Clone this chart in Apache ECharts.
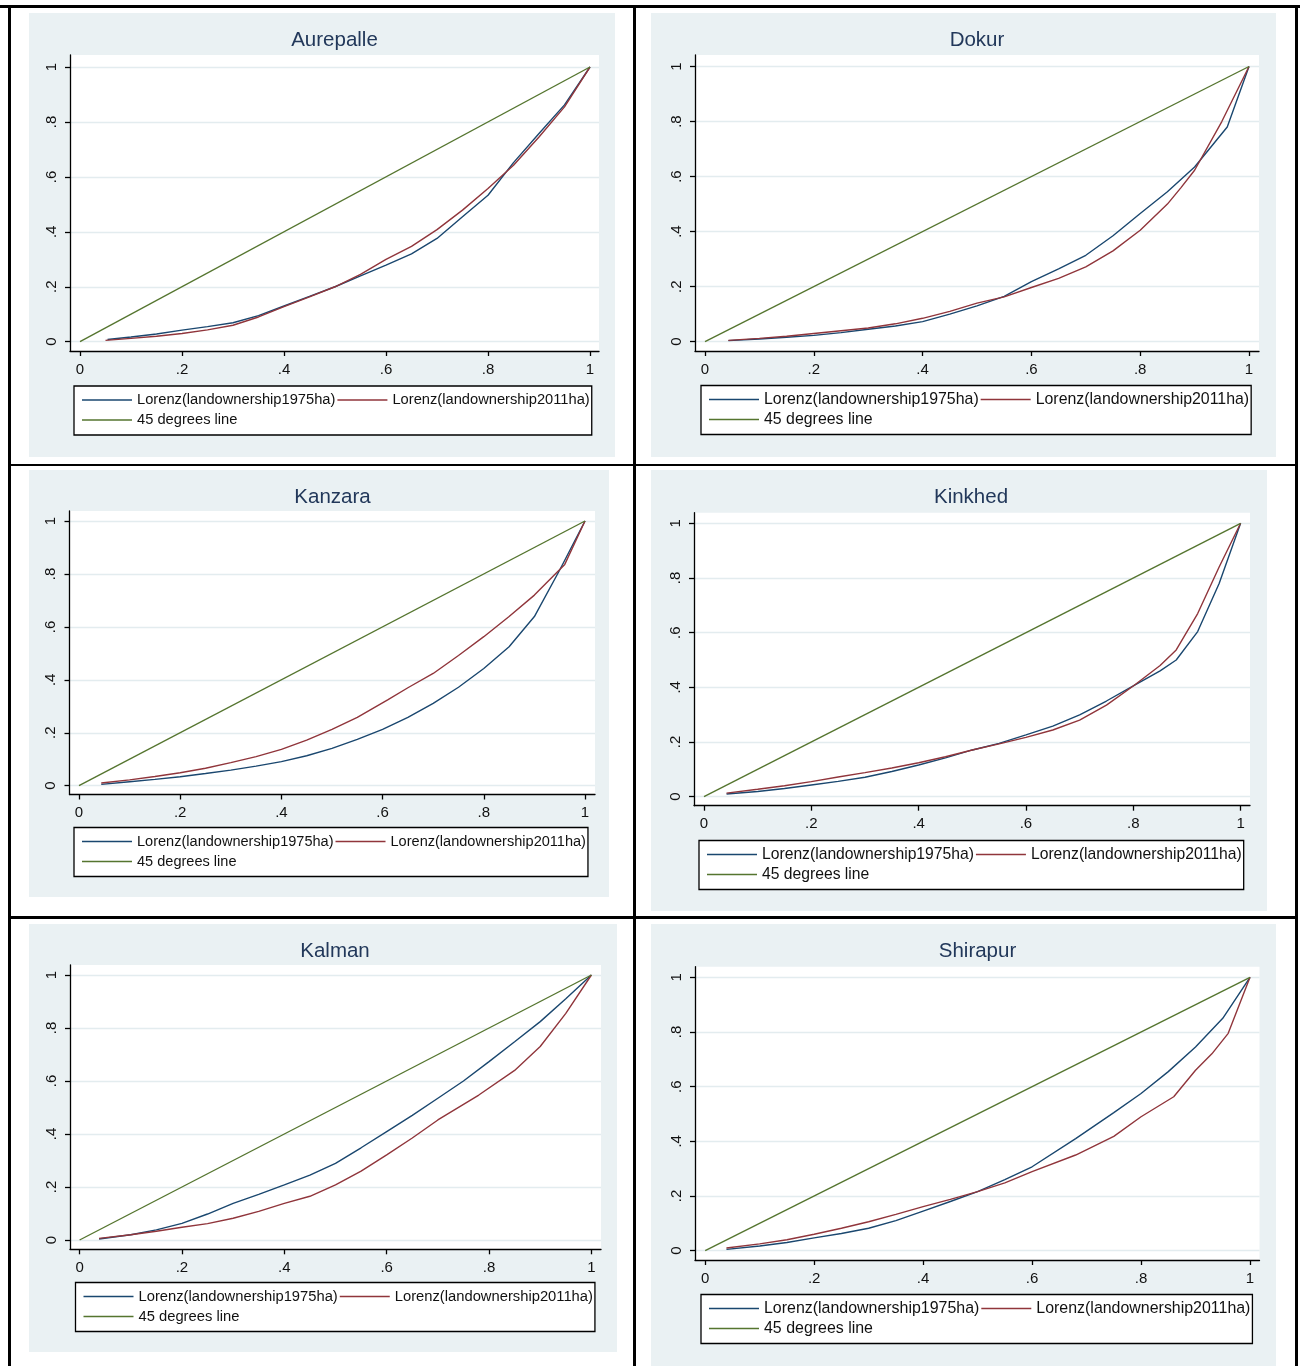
<!DOCTYPE html>
<html><head><meta charset="utf-8">
<script src="https://cdn.jsdelivr.net/npm/echarts@6/dist/echarts.min.js"></script>
<style>
html,body{margin:0;padding:0;background:#fff;}
#page{position:relative;width:1300px;height:1366px;overflow:hidden;}
.ln{position:absolute;background:#000;}
.cell{position:absolute;background:#eaf1f3;}
</style></head><body><div id="page"></div>
<script>
// ---------- data ----------
const villages = ['Aurepalle','Dokur','Kanzara','Kinkhed','Kalman','Shirapur'];
const seriesNames = ['Lorenz(landownership1975ha)','Lorenz(landownership2011ha)','45 degrees line'];
const tickValues = [0,0.2,0.4,0.6,0.8,1];
const tickLabels = ['0','.2','.4','.6','.8','1'];
const equalityLine = [[0,0],[1,1]];

const aurepalle1975 = [[0.054,0.008],[0.1,0.017],[0.15,0.028],[0.2,0.042],[0.25,0.055],[0.3,0.069],[0.35,0.095],[0.4,0.13],[0.45,0.165],[0.5,0.2],[0.55,0.24],[0.6,0.279],[0.65,0.32],[0.7,0.376],[0.75,0.455],[0.8,0.533],[0.85,0.652],[0.9,0.758],[0.95,0.862],[1,1]];
const aurepalle2011 = [[0.05,0.005],[0.1,0.012],[0.15,0.02],[0.2,0.03],[0.25,0.043],[0.3,0.06],[0.35,0.09],[0.4,0.128],[0.45,0.163],[0.5,0.2],[0.55,0.245],[0.6,0.3],[0.65,0.347],[0.7,0.408],[0.75,0.479],[0.8,0.558],[0.85,0.642],[0.9,0.745],[0.95,0.855],[1,1]];

const dokur1975 = [[0.043,0.004],[0.1,0.01],[0.15,0.016],[0.2,0.023],[0.25,0.033],[0.3,0.045],[0.35,0.057],[0.4,0.073],[0.45,0.1],[0.5,0.13],[0.55,0.165],[0.6,0.218],[0.65,0.265],[0.7,0.314],[0.75,0.385],[0.8,0.466],[0.85,0.545],[0.9,0.635],[0.96,0.78],[1,1]];
const dokur2011 = [[0.043,0.005],[0.1,0.012],[0.15,0.02],[0.2,0.03],[0.25,0.04],[0.3,0.05],[0.35,0.065],[0.4,0.085],[0.45,0.11],[0.5,0.14],[0.55,0.163],[0.6,0.197],[0.65,0.23],[0.7,0.272],[0.75,0.33],[0.8,0.405],[0.85,0.5],[0.875,0.56],[0.9,0.623],[0.95,0.8],[1,1]];

const kanzara1975 = [[0.044,0.005],[0.1,0.015],[0.15,0.024],[0.2,0.034],[0.25,0.046],[0.3,0.059],[0.35,0.074],[0.4,0.091],[0.45,0.113],[0.5,0.141],[0.55,0.175],[0.6,0.213],[0.65,0.258],[0.7,0.311],[0.75,0.372],[0.8,0.443],[0.85,0.525],[0.9,0.639],[0.95,0.815],[1,1]];
const kanzara2011 = [[0.044,0.01],[0.1,0.022],[0.15,0.035],[0.2,0.049],[0.25,0.066],[0.3,0.087],[0.35,0.11],[0.4,0.137],[0.45,0.172],[0.5,0.213],[0.55,0.258],[0.61,0.324],[0.65,0.37],[0.7,0.424],[0.75,0.492],[0.8,0.563],[0.85,0.639],[0.9,0.72],[0.96,0.836],[1,1]];

const kinkhed1975 = [[0.042,0.01],[0.1,0.019],[0.15,0.03],[0.2,0.043],[0.25,0.056],[0.3,0.071],[0.35,0.092],[0.4,0.116],[0.45,0.142],[0.5,0.171],[0.55,0.195],[0.6,0.226],[0.65,0.258],[0.7,0.299],[0.75,0.35],[0.8,0.405],[0.85,0.46],[0.88,0.5],[0.92,0.604],[0.96,0.78],[1,1]];
const kinkhed2011 = [[0.042,0.013],[0.1,0.027],[0.15,0.04],[0.2,0.055],[0.25,0.072],[0.3,0.088],[0.35,0.105],[0.4,0.124],[0.45,0.146],[0.5,0.171],[0.55,0.193],[0.6,0.217],[0.65,0.244],[0.7,0.28],[0.75,0.335],[0.8,0.405],[0.85,0.48],[0.88,0.537],[0.92,0.67],[0.96,0.84],[1,1]];

const kalman1975 = [[0.038,0.004],[0.1,0.02],[0.15,0.038],[0.2,0.063],[0.25,0.098],[0.3,0.138],[0.35,0.172],[0.4,0.208],[0.45,0.245],[0.5,0.289],[0.55,0.348],[0.6,0.409],[0.65,0.47],[0.7,0.535],[0.75,0.6],[0.8,0.673],[0.85,0.748],[0.9,0.824],[0.95,0.91],[1,1]];
const kalman2011 = [[0.038,0.006],[0.1,0.02],[0.15,0.033],[0.2,0.048],[0.25,0.062],[0.3,0.082],[0.35,0.108],[0.4,0.138],[0.45,0.165],[0.5,0.208],[0.55,0.26],[0.6,0.321],[0.65,0.385],[0.7,0.453],[0.78,0.547],[0.85,0.64],[0.9,0.73],[0.95,0.855],[1,1]];

const shirapur1975 = [[0.039,0.005],[0.1,0.017],[0.15,0.03],[0.2,0.047],[0.25,0.063],[0.3,0.082],[0.35,0.11],[0.4,0.145],[0.45,0.18],[0.5,0.216],[0.55,0.26],[0.6,0.307],[0.68,0.41],[0.75,0.505],[0.8,0.575],[0.85,0.655],[0.9,0.745],[0.95,0.85],[1,1]];
const shirapur2011 = [[0.039,0.01],[0.1,0.025],[0.15,0.04],[0.2,0.06],[0.25,0.082],[0.3,0.106],[0.35,0.133],[0.4,0.161],[0.45,0.188],[0.5,0.216],[0.55,0.248],[0.6,0.289],[0.68,0.35],[0.75,0.418],[0.8,0.49],[0.86,0.563],[0.9,0.66],[0.93,0.72],[0.96,0.795],[1,1]];

const lorenz1975 = [aurepalle1975, dokur1975, kanzara1975, kinkhed1975, kalman1975, shirapur1975];
const lorenz2011 = [aurepalle2011, dokur2011, kanzara2011, kinkhed2011, kalman2011, shirapur2011];

// ---------- layout (page pixels) ----------
const layout = [
 {grey:[29,13,615,457],  axL:70,  x0:80,  x1:590,  plotR:599,  plotT:55,  y1:67,  y0:341.7, axB:351,   title:[334.5,40],  leg:[74,386],   lf:14.7},
 {grey:[651,13,1276,457],axL:695, x0:705, x1:1249, plotR:1259, plotT:55,  y1:66.5,y0:341.7, axB:351,   title:[977,40],    leg:[701,385.5],lf:15.9},
 {grey:[29,470,609,897], axL:69.5,x0:79,  x1:585,  plotR:595,  plotT:511, y1:521, y0:785.7, axB:794.5, title:[332.5,497], leg:[74,827.5], lf:14.55},
 {grey:[651,470,1267,911],axL:694,x0:704, x1:1240.6,plotR:1250,plotT:512.7,y1:523.3,y0:796.7,axB:805.7, title:[971,497],   leg:[699,840.5],lf:15.7},
 {grey:[29,924,617,1352],axL:70,  x0:79.6,x1:591.4,plotR:601,  plotT:965, y1:975, y0:1240,  axB:1249.3,title:[335,951.5], leg:[75.5,1282.5],lf:14.75},
 {grey:[651,924,1276,1366],axL:695,x0:705.2,x1:1250,plotR:1259.5,plotT:966.7,y1:977.3,y0:1250.7,axB:1260,title:[977.5,951.5],leg:[701,1294.5],lf:15.95}
];
const colors = ['#1a476f','#90353b','#55752f'];
const FONT = "'Liberation Sans', Arial, Helvetica, sans-serif";

const page = document.getElementById('page');
function line(l,t,w,h){const d=document.createElement('div');d.className='ln';d.style.left=l+'px';d.style.top=t+'px';d.style.width=w+'px';d.style.height=h+'px';page.appendChild(d);}
// table borders
line(0,5,1300,3);
line(7.5,5,3,1361);
line(633,5,3,1361);
line(1295,5,3,1361);
line(7.5,463.5,1290.5,2.6);
line(7.5,916,1290.5,3);

function fmt(v){const k=tickValues.findIndex(t=>Math.abs(t-v)<1e-9);return k>=0?tickLabels[k]:'';}

layout.forEach((L,i)=>{
  const [gl,gt,gr,gb]=L.grey;
  const div=document.createElement('div');div.className='cell';
  div.style.left=gl+'px';div.style.top=gt+'px';div.style.width=(gr-gl)+'px';div.style.height=(gb-gt)+'px';
  page.appendChild(div);
  const chart=echarts.init(div,null,{renderer:'canvas'});
  const xu=L.x1-L.x0, yu=L.y0-L.y1;
  const xmin=-(L.x0-L.axL)/xu, xmax=1+(L.plotR-L.x1)/xu;
  const ymin=-(L.axB-L.y0)/yu, ymax=1+(L.y1-L.plotT)/yu;
  const textW = 13.506*L.lf;
  const axisLine={show:true,onZero:false,lineStyle:{color:'#000',width:1.3}};
  const axisTick={show:true,length:5,inside:false,customValues:tickValues,lineStyle:{color:'#000',width:1.3}};
  const seriesData=[lorenz1975[i],lorenz2011[i],equalityLine];
  chart.setOption({
    animation:false,
    backgroundColor:'#eaf1f3',
    textStyle:{fontFamily:FONT},
    title:{text:villages[i],left:L.title[0]-gl,top:L.title[1]-gt,textAlign:'center',textVerticalAlign:'middle',padding:0,
      textStyle:{fontSize:20.5,fontWeight:'normal',color:'#22385a',fontFamily:FONT}},
    grid:{left:L.axL-gl,top:L.plotT-gt,width:L.plotR-L.axL,height:L.axB-L.plotT,show:true,backgroundColor:'#ffffff',borderWidth:0,containLabel:false,outerBoundsMode:'none'},
    xAxis:{type:'value',min:xmin,max:xmax,axisLine:axisLine,axisTick:axisTick,
      axisLabel:{customValues:tickValues,formatter:fmt,margin:11,fontSize:15,color:'#111',fontFamily:FONT},
      splitLine:{show:false}},
    yAxis:{type:'value',min:ymin,max:ymax,axisLine:axisLine,axisTick:axisTick,
      axisLabel:{customValues:tickValues,formatter:fmt,margin:11,fontSize:15,color:'#111',rotate:90,fontFamily:FONT},
      splitLine:{show:true,lineStyle:{color:'#e3ecef',width:1.4}}},
    legend:{left:L.leg[0]-gl,top:L.leg[1]-gt,orient:'horizontal',width:2*(55+textW)+2+12,
      itemWidth:50,itemHeight:1.4,itemGap:2,icon:'rect',padding:[5,2,6,8],
      backgroundColor:'#ffffff',borderColor:'#000',borderWidth:1.3,borderRadius:0,
      itemStyle:{borderWidth:0},selectedMode:false,
      textStyle:{fontSize:L.lf,color:'#111',lineHeight:18,fontFamily:FONT},
      data:seriesNames},
    series:seriesData.map((d,k)=>({name:seriesNames[k],type:'line',data:d,symbol:'none',showSymbol:false,
      color:colors[k],itemStyle:{color:colors[k]},lineStyle:{color:colors[k],width:1.4},
      emphasis:{disabled:true},silent:true,z:2+k}))
  });
});
</script></body></html>
